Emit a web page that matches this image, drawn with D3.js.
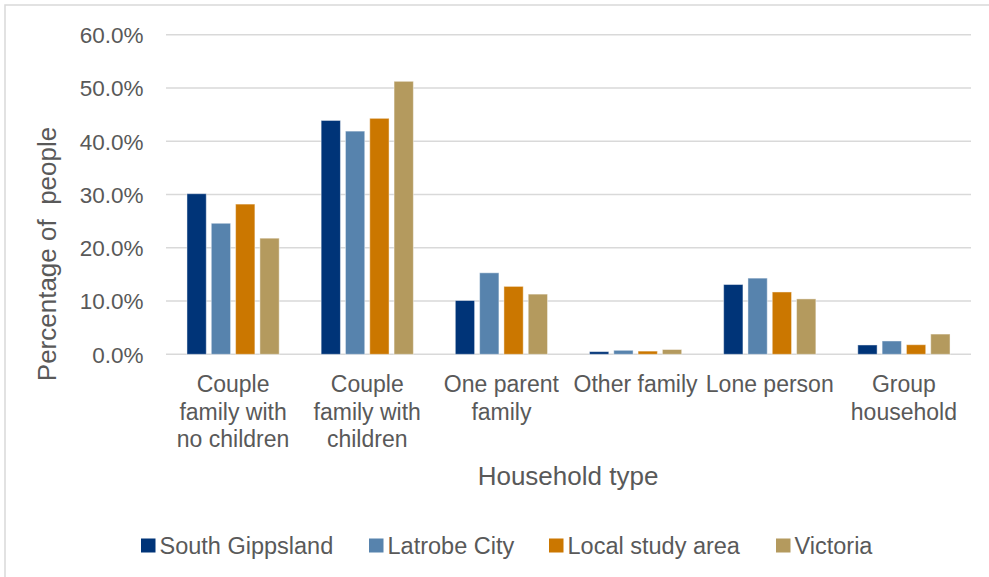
<!DOCTYPE html>
<html>
<head>
<meta charset="utf-8">
<script src="https://cdn.jsdelivr.net/npm/d3@7"></script>
<style>
  html, body { margin: 0; padding: 0; background: #fff; }
  svg { display: block; font-family: "Liberation Sans", Arial, sans-serif; }
</style>
</head>
<body>
<svg id="chart" width="989" height="577"></svg>
<script>
// Household composition by area (% of people)
const categories = [
  ["Couple", "family with", "no children"],
  ["Couple", "family with", "children"],
  ["One parent", "family"],
  ["Other family"],
  ["Lone person"],
  ["Group", "household"]
];
const seriesNames = ["South Gippsland", "Latrobe City", "Local study area", "Victoria"];
const southGippsland = [30.15, 43.9, 10.1, 0.5, 13.1, 1.75];
const latrobeCity    = [24.6, 41.9, 15.3, 0.75, 14.3, 2.5];
const localStudyArea = [28.2, 44.3, 12.75, 0.6, 11.7, 1.8];
const victoria       = [21.8, 51.25, 11.3, 0.9, 10.4, 3.8];
const yTicks = [0, 10, 20, 30, 40, 50, 60];
const colors = ["#003478", "#5783ad", "#cb7700", "#b49a5e"];

const allSeries = [southGippsland, latrobeCity, localStudyArea, victoria];
const svg = d3.select("#chart");
const textColor = "#595959";
const gridColor = "#d9d9d9";

// chart frame
svg.append("rect")
  .attr("x", 5).attr("y", 5).attr("width", 1000).attr("height", 600)
  .attr("fill", "none").attr("stroke", gridColor).attr("stroke-width", 1.5);

const plot = { left: 166, right: 971, top: 34.7, bottom: 354.3 };

const x = d3.scaleBand()
  .domain(d3.range(categories.length))
  .range([plot.left, plot.right])
  .paddingInner(0).paddingOuter(0);

const inner = d3.scaleBand()
  .domain(d3.range(seriesNames.length))
  .range([0, x.bandwidth()])
  .paddingInner(0.206)
  .paddingOuter(0.863);

const y = d3.scaleLinear().domain([0, 60]).range([plot.bottom, plot.top]);

// gridlines
svg.append("g")
  .selectAll("line")
  .data(yTicks)
  .join("line")
  .attr("x1", plot.left).attr("x2", plot.right)
  .attr("y1", d => y(d)).attr("y2", d => y(d))
  .attr("stroke", gridColor).attr("stroke-width", 1.5);

// y axis tick labels
const yAxis = d3.axisLeft(y)
  .tickValues(yTicks)
  .tickSize(0)
  .tickPadding(0)
  .tickFormat(d => d.toFixed(1) + "%");
const yg = svg.append("g")
  .attr("transform", `translate(143.5,0)`)
  .call(yAxis);
yg.select(".domain").remove();
yg.selectAll("text")
  .attr("fill", textColor)
  .attr("font-size", "22.5px")
  .attr("font-family", "'Liberation Sans', Arial, sans-serif")
  .attr("dy", "0.35em");

// bars
const rows = [];
allSeries.forEach((vals, s) => vals.forEach((v, c) => rows.push({ s, c, v })));
svg.append("g")
  .selectAll("rect")
  .data(rows)
  .join("rect")
  .attr("x", d => x(d.c) + inner(d.s))
  .attr("width", inner.bandwidth())
  .attr("y", d => y(d.v))
  .attr("height", d => y(0) - y(d.v))
  .attr("fill", d => colors[d.s])
  .attr("stroke", "#ffffff")
  .attr("stroke-opacity", 0.45)
  .attr("stroke-width", 1);

// category labels
const catG = svg.append("g");
categories.forEach((lines, c) => {
  const t = catG.append("text")
    .attr("x", x(c) + x.bandwidth() / 2)
    .attr("y", 384)
    .attr("text-anchor", "middle")
    .attr("fill", textColor)
    .attr("font-size", "23px");
  lines.forEach((ln, i) => {
    t.append("tspan")
      .attr("x", x(c) + x.bandwidth() / 2)
      .attr("y", 384 + i * 27.5)
      .attr("dy", "0.35em")
      .text(ln);
  });
});

// axis titles
svg.append("text")
  .attr("x", 568).attr("y", 476).attr("dy", "0.35em")
  .attr("text-anchor", "middle")
  .attr("fill", textColor)
  .attr("font-size", "26px")
  .text("Household type");

svg.append("text")
  .attr("transform", "translate(47,254) rotate(-90)")
  .attr("dy", "0.35em")
  .attr("text-anchor", "middle")
  .attr("fill", textColor)
  .attr("font-size", "26px")
  .attr("xml:space", "preserve")
  .style("white-space", "pre")
  .text("Percentage of  people");

// legend
const legendStarts = [141, 369, 549, 776];
const lg = svg.append("g");
seriesNames.forEach((name, i) => {
  lg.append("rect")
    .attr("x", legendStarts[i]).attr("y", 538.5)
    .attr("width", 14.5).attr("height", 14)
    .attr("fill", colors[i]);
  lg.append("text")
    .attr("x", legendStarts[i] + 18.5).attr("y", 545.5)
    .attr("dy", "0.35em")
    .attr("fill", textColor)
    .attr("font-size", "23.5px")
    .text(name);
});
</script>
</body>
</html>
